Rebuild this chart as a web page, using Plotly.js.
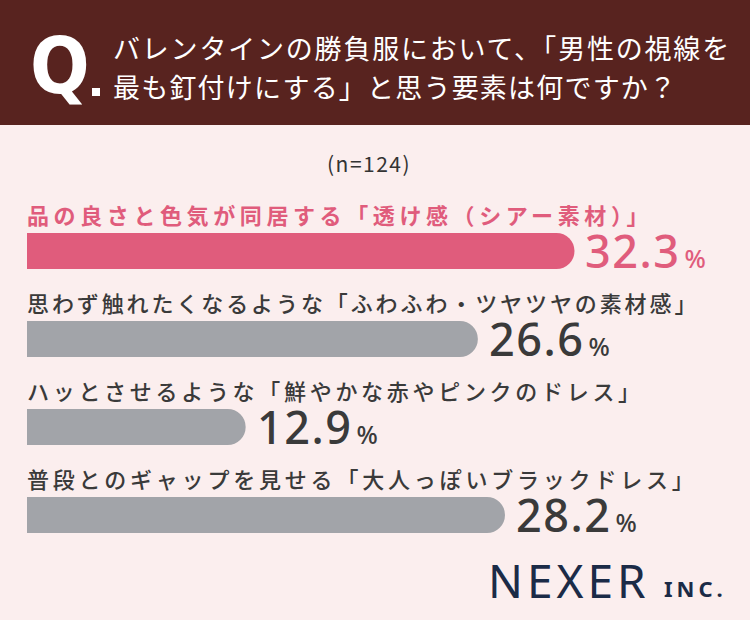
<!DOCTYPE html>
<html><head><meta charset="utf-8">
<script src="https://cdn.plot.ly/plotly-3.0.1.min.js"></script>
<style>html,body{margin:0;padding:0;background:#fbeeee;}</style>
</head><body><div id="chart" style="width:750px;height:620px;"></div>
<script>
const categories = [
  "品の良さと色気が同居する「透け感（シアー素材）」",
  "思わず触れたくなるような「ふわふわ・ツヤツヤの素材感」",
  "ハッとさせるような「鮮やかな赤やピンクのドレス」",
  "普段とのギャップを見せる「大人っぽいブラックドレス」"
];
const values = [32.3, 26.6, 12.9, 28.2];
const barColors = ["#e05c7c", "#a2a4a9", "#a2a4a9", "#a2a4a9"];
const textColors = ["#e05c7c", "#3a3a3a", "#3a3a3a", "#3a3a3a"];
const labelSpacing = [4.6, 2.9, 3.7, 3.8];
const sampleNote = "(n=124)";
const questionLines = [
  "バレンタインの勝負服において、「男性の視線を",
  "最も釘付けにする」と思う要素は何ですか？"
];
const questionSpacing = [1.8, 1.2];

const W = 750, H = 620, L = 27, R = 44, T = 207, B = 61;
const pw = W - L - R, ph = H - T - B;
const px = v => (v - L) / pw;
const py = v => (H - B - v) / ph;
const jp = '"Noto Sans CJK JP", "Noto Sans", sans-serif';
const ls = (t, s) => '<span style="letter-spacing:' + s + 'px">' + t + '</span>';

const idx = categories.map((c, i) => i);

const trace = {
  type: 'bar', orientation: 'h',
  x: values, y: idx,
  width: 0.41,
  marker: { color: barColors, cornerradius: 18, line: { width: 0 } },
  hoverinfo: 'skip'
};

function valueText(v) {
  return ls(v.toFixed(1), 1.5) +
    '<span style="font-size:25px;letter-spacing:0px">\u2009%</span>';
}

const annotations = [];
categories.forEach((c, i) => {
  annotations.push({
    x: 0, y: i, xref: 'x', yref: 'y', xanchor: 'left', yanchor: 'middle', align: 'left',
    xshift: -2, yshift: 37, showarrow: false, text: ls(c, labelSpacing[i]),
    font: { family: jp, size: 22, color: textColors[i], weight: i === 0 ? 700 : 500 }
  });
  annotations.push({
    x: values[i], y: i, xref: 'x', yref: 'y', xanchor: 'left', yanchor: 'middle', align: 'left',
    xshift: 9, yshift: 1, showarrow: false,
    text: valueText(values[i]),
    font: { family: '"Noto Sans", sans-serif', size: 45, color: textColors[i], weight: 500 }
  });
});

annotations.push({
  xref: 'paper', yref: 'paper', x: px(60), y: py(66), xanchor: 'center', yanchor: 'middle',
  showarrow: false, text: 'Q',
  font: { family: '"DejaVu Sans Condensed", "Liberation Sans Narrow", "Noto Sans", sans-serif', size: 78, color: '#ffffff', weight: 700 }
});
questionLines.forEach((t, k) => {
  annotations.push({
    xref: 'paper', yref: 'paper', x: px(111), y: py(k === 0 ? 47 : 86),
    xanchor: 'left', yanchor: 'middle', align: 'left', showarrow: false, text: ls(t, questionSpacing[k]),
    font: { family: jp, size: 27, color: '#ffffff', weight: 400 }
  });
});
annotations.push({
  xref: 'paper', yref: 'paper', x: px(369), y: py(163), xanchor: 'center', yanchor: 'middle',
  showarrow: false, text: ls(sampleNote, 1.5),
  font: { family: jp, size: 21, color: '#333333' }
});
annotations.push({
  xref: 'paper', yref: 'paper', x: px(486), y: py(580), xanchor: 'left', yanchor: 'middle', align: 'left',
  showarrow: false, text: ls('NEXER', 4),
  font: { family: '"Noto Sans", sans-serif', size: 46, color: '#1b2b47', weight: 400 }
});
annotations.push({
  xref: 'paper', yref: 'paper', x: px(662), y: py(588), xanchor: 'left', yanchor: 'middle', align: 'left',
  showarrow: false, text: ls('INC.', 4),
  font: { family: '"Noto Sans", sans-serif', size: 22, color: '#1b2b47', weight: 700 }
});

const layout = {
  width: W, height: H,
  margin: { l: L, r: R, t: T, b: B, pad: 0 },
  paper_bgcolor: '#fbeeee', plot_bgcolor: 'rgba(0,0,0,0)',
  showlegend: false,
  xaxis: { range: [0, pw / 16.95], visible: false, fixedrange: true },
  yaxis: { range: [3.5, -0.5], visible: false, fixedrange: true },
  shapes: [{
    type: 'rect', xref: 'paper', yref: 'paper', layer: 'below',
    x0: px(-5), x1: px(760), y0: py(125), y1: py(-5),
    fillcolor: '#58231f', line: { width: 0 }
  }, {
    type: 'rect', xref: 'paper', yref: 'paper', layer: 'above',
    x0: px(92), x1: px(100), y0: py(96), y1: py(88),
    fillcolor: '#ffffff', line: { width: 0 }
  }],
  annotations: annotations
};

Plotly.newPlot('chart', [trace], layout, { displayModeBar: false, staticPlot: true });
</script></body></html>
